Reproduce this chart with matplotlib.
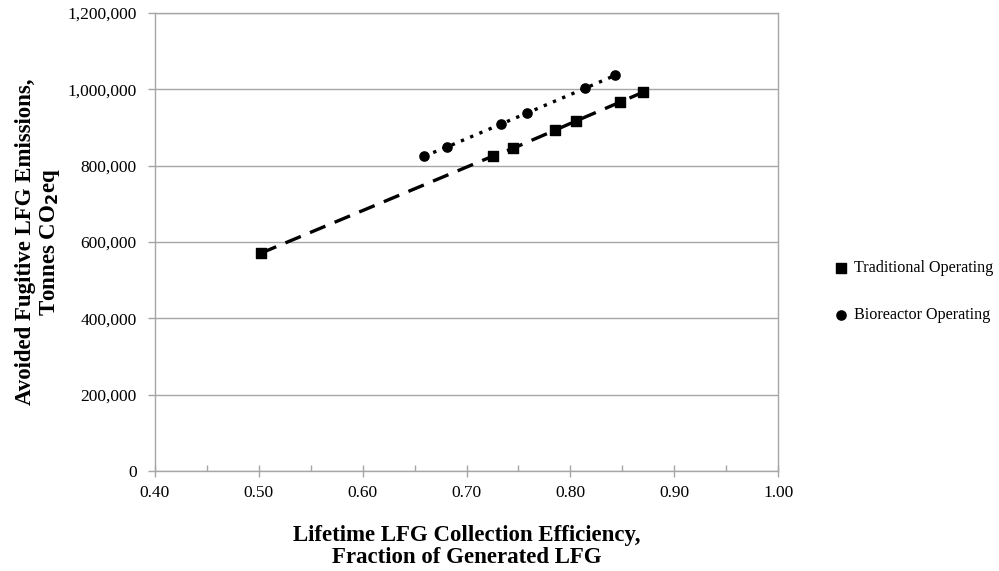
import numpy as np
import matplotlib
matplotlib.use('Agg')
import matplotlib.pyplot as plt
from matplotlib.ticker import MultipleLocator, FuncFormatter

## Traditional operating scenario
trad_eff  = [0.502, 0.725, 0.745, 0.785, 0.805, 0.848, 0.870]
trad_co2  = [571000, 825000, 846000, 893000, 917000, 967000, 993000]

## Bioreactor operating scenario
bio_eff   = [0.659, 0.681, 0.733, 0.758, 0.814, 0.843]
bio_co2   = [825000, 849000, 909000, 938000, 1003000, 1037000]

plt.rcParams['font.family'] = ['Liberation Serif', 'DejaVu Serif']

fig = plt.figure(figsize=(9.99, 5.71), dpi=100, facecolor='w')
ax = fig.add_axes([0.155, 0.175, 0.624, 0.802])

grid_col = '#a6a6a6'

## data lines (drawn first), then the markers
ax.plot(trad_eff, trad_co2, ls=(0, (5, 3)), lw=2.4, color='k', zorder=3)
ax.plot(bio_eff, bio_co2, ls=(0, (1, 2)), lw=2.4, color='k', zorder=3)
ax.scatter(trad_eff, trad_co2, marker='s', s=42, color='k', zorder=4,
           label='Traditional Operating')
ax.scatter(bio_eff, bio_co2, marker='o', s=44, color='k', zorder=4,
           label='Bioreactor Operating')

ax.set_xlim(0.40, 1.00)
ax.set_ylim(0, 1200000)

ax.xaxis.set_major_locator(MultipleLocator(0.1))
ax.xaxis.set_minor_locator(MultipleLocator(0.05))
ax.yaxis.set_major_locator(MultipleLocator(200000))
ax.xaxis.set_major_formatter(FuncFormatter(lambda v, p: '%.2f' % v))
ax.yaxis.set_major_formatter(FuncFormatter(lambda v, p: '{:,.0f}'.format(v)))

## horizontal gridlines only
ax.yaxis.grid(True, color=grid_col, lw=1.0)
ax.set_axisbelow(True)

for s in ax.spines.values():
    s.set_color(grid_col)
    s.set_linewidth(1.0)

ax.tick_params(axis='both', which='major', labelsize=12.5, direction='out',
               length=5, width=1, color=grid_col, pad=6)
ax.tick_params(axis='x', which='major', direction='inout', length=8, pad=6)
ax.tick_params(axis='x', which='minor', direction='in', length=4, width=1,
               color=grid_col)
ax.tick_params(axis='y', which='major', pad=8)

ax.set_xlabel('Lifetime LFG Collection Efficiency,\nFraction of Generated LFG',
              fontsize=16.5, fontweight='bold', labelpad=17, linespacing=1.12)
ax.set_ylabel('Avoided Fugitive LFG Emissions,\nTonnes CO$_\\mathbf{2}$eq',
              fontsize=16.5, fontweight='bold', labelpad=4, linespacing=1.1)

leg = fig.legend(loc='center left', bbox_to_anchor=(0.818, 0.489),
                 frameon=False, fontsize=11.6, handletextpad=0.2,
                 labelspacing=1.9, handlelength=1.2)

plt.savefig('out.png', format='png', dpi=100)
plt.close()
